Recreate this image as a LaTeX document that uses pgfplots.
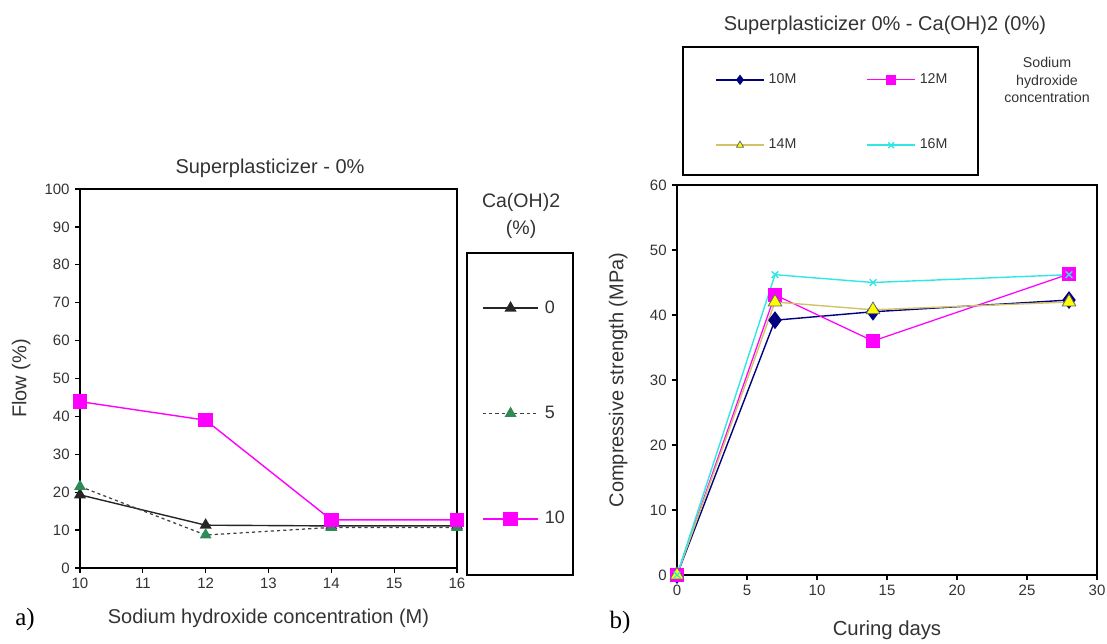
\documentclass[border=0pt]{standalone}
\usepackage{fontspec}
\setmainfont{Liberation Sans}
\newfontfamily\serif{Liberation Serif}
\usepackage{pgfplots}
\pgfplotsset{compat=1.18}
\definecolor{txt}{HTML}{333333}
\definecolor{mag}{HTML}{FF00FF}
\definecolor{grn}{HTML}{2E8B57}
\definecolor{nav}{HTML}{000080}
\definecolor{yel}{HTML}{FFFF00}
\definecolor{yline}{HTML}{D2C26A}
\definecolor{cyn}{HTML}{33E6E6}

\begin{document}
\begin{tikzpicture}
\useasboundingbox (0,0) rectangle (24.9075,14.49);
\pgfplotsset{base/.style={scale only axis, clip=false,
  axis line style={line width=0.9pt}, tick style={black, line width=0.8pt},
  tick align=outside, major tick length=0.11cm, xtick pos=left, ytick pos=left,
  tick label style={font=\fontsize{9.6}{11}\selectfont, text=txt},
  /pgf/number format/assume math mode=true, legend cell align=left}}

% a) flow
\begin{axis}[base, at={(1.8cm,1.71cm)}, anchor=south west,
  width=8.4825cm, height=8.5275cm,
  xmin=10, xmax=16, ymin=0, ymax=100,
  xtick={10,...,16}, ytick={0,10,...,100},
  legend style={at={(1.0663,0.4077)}, anchor=west, draw=none, fill=none,
    inner sep=0pt, row sep=58pt, column sep=0.135cm,
    font=\fontsize{11.5}{12}\selectfont, text=txt, nodes={inner sep=0pt}},
  legend image code/.code={\draw[mark repeat=2,mark phase=2] plot coordinates {(0cm,0cm)(0.62cm,0cm)(1.24cm,0cm)};}]
\addplot[black!85, line width=0.9pt, mark=triangle*, mark size=3.6pt, mark options={solid, fill=black!85}]
  coordinates {(10,19.3) (12,11.3) (14,11.1) (16,11.1)};
\addlegendentry{0}
\addplot[black!75, line width=0.8pt, dash pattern=on 2pt off 2pt, mark=triangle*, mark size=3.6pt, mark options={solid, fill=grn, draw=grn}]
  coordinates {(10,21.5) (12,8.7) (14,10.7) (16,10.7)};
\addlegendentry{5}
\addplot[mag, line width=0.9pt, mark=square*, mark size=4.2pt, mark options={fill=mag}]
  coordinates {(10,43.9) (12,39.0) (14,12.7) (16,12.7)};
\addlegendentry{10}
\draw[line width=0.8pt] (rel axis cs:1.0265,0.831) rectangle (rel axis cs:1.3077,-0.0185);
\node[font=\fontsize{12.8}{14}\selectfont, text=txt] at (rel axis cs:0.504,1.055) {Superplasticizer - 0\%};
\node[align=center, font=\fontsize{12.5}{17.3}\selectfont, text=txt] at (rel axis cs:1.17,0.929) {Ca(OH)2\\(\%)};
\node[font=\fontsize{12.8}{14}\selectfont, text=txt] at (rel axis cs:0.5,-0.132) {Sodium hydroxide concentration (M)};
\node[rotate=90, font=\fontsize{12.8}{14}\selectfont, text=txt] at (rel axis cs:-0.156,0.5) {Flow (\%)};
\node[font=\serif\fontsize{16}{18}\selectfont] at (rel axis cs:-0.146,-0.137) {a)};
\end{axis}

% b) compressive strength
\begin{axis}[base, at={(15.2325cm,1.5525cm)}, anchor=south west,
  width=9.45cm, height=8.775cm,
  xmin=0, xmax=30, ymin=0, ymax=60,
  xtick={0,5,...,30}, ytick={0,10,...,60},
  legend columns=2,
  legend style={at={(0.0905,1.1859)}, anchor=west, draw=none, fill=none,
    inner sep=0pt, row sep=34pt, column sep=0.09cm,
    /tikz/every even column/.append style={column sep=1.575cm},
    font=\fontsize{9.1}{10}\selectfont, text=txt, nodes={inner sep=0pt}},
  legend image code/.code={\draw[mark repeat=2,mark phase=2,mark size=2.6pt] plot coordinates {(0cm,0cm)(0.54cm,0cm)(1.08cm,0cm)};}]
\addplot[nav, line width=0.9pt, mark=diamond*, mark size=5pt, mark options={fill=nav}]
  coordinates {(0,0) (7,39.2) (14,40.5) (28,42.3)};
\addlegendentry{10M}
\addplot[mag, line width=0.8pt, mark=square*, mark size=4pt, mark options={fill=mag}]
  coordinates {(0,0) (7,43.1) (14,36.0) (28,46.3)};
\addlegendentry{12M}
\addplot[yline, line width=0.9pt, mark=triangle*, mark size=5pt, mark options={fill=yel, draw=black!60, line width=0.5pt}]
  coordinates {(0,0) (7,42.0) (14,40.8) (28,42.0)};
\addlegendentry{14M}
\addplot[cyn, line width=0.9pt, mark=x, mark size=3pt, mark options={line width=0.9pt}]
  coordinates {(0,0) (7,46.2) (14,45.0) (28,46.2)};
\addlegendentry{16M}
\draw[line width=0.8pt] (rel axis cs:0.0143,1.3538) rectangle (rel axis cs:0.7167,1.0256);
\node[font=\fontsize{12.8}{14}\selectfont, text=txt] at (rel axis cs:0.495,1.4103) {Superplasticizer 0\% - Ca(OH)2 (0\%)};
\node[align=center, font=\fontsize{9.1}{11.2}\selectfont, text=txt] at (rel axis cs:0.881,1.2692) {Sodium\\hydroxide\\concentration};
\node[font=\fontsize{13}{14}\selectfont, text=txt] at (rel axis cs:0.5,-0.141) {Curing days};
\node[rotate=90, font=\fontsize{12.8}{14}\selectfont, text=txt] at (rel axis cs:-0.140,0.5) {Compressive strength (MPa)};
\node[font=\serif\fontsize{16}{18}\selectfont] at (rel axis cs:-0.1357,-0.123) {b)};
\end{axis}
\end{tikzpicture}
\end{document}
